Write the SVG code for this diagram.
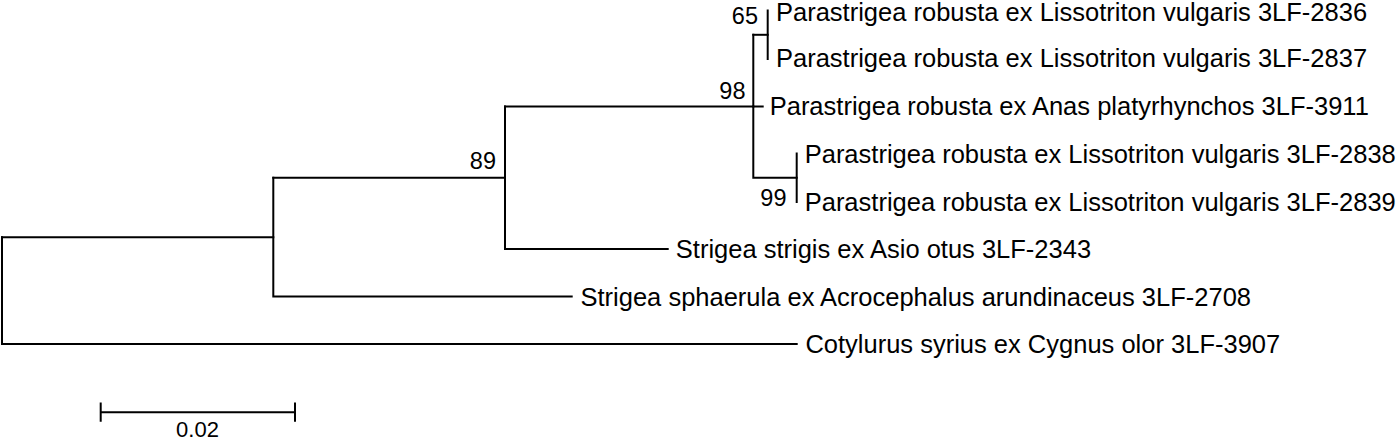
<svg xmlns="http://www.w3.org/2000/svg" width="1400" height="442" viewBox="0 0 1400 442">
<style>
.br{fill:none;stroke:#000;stroke-width:2;stroke-linecap:square}
.tx{font-family:"Liberation Sans",Arial,sans-serif;font-size:25.5px;fill:#000}
.bs{font-family:"Liberation Sans",Arial,sans-serif;font-size:23.5px;fill:#000;text-anchor:end}
.sc{font-family:"Liberation Sans",Arial,sans-serif;font-size:22px;fill:#000;text-anchor:middle}
</style>
<rect width="1400" height="442" fill="#fff"/>
<g id="connectors">
<path class="br" d="M2,237.2 V344 H796.7"/>
<path class="br" d="M2,237.2 H273.3"/>
<path class="br" d="M273.3,177.8 V296.5 H571.7"/>
<path class="br" d="M273.3,177.8 H505"/>
<path class="br" d="M505,106.5 V249 H667.7"/>
<path class="br" d="M505,106.5 H753.3"/>
<path class="br" d="M753.3,34.8 V177.8 H796.7"/>
<path class="br" d="M753.3,106.5 H762.7"/>
<path class="br" d="M753.3,34.8 H767.7"/>
<path class="br" d="M767.7,10.5 V59"/>
<path class="br" d="M796.7,153.5 V202"/>
</g>
<g id="bootstrap">
<text class="bs" x="758" y="24">65</text>
<text class="bs" x="745.5" y="98.5">98</text>
<text class="bs" x="496" y="168.5">89</text>
<text class="bs" x="786.5" y="205.5">99</text>
</g>
<g id="taxon-2836"><text class="tx" x="776" y="20.5">Parastrigea robusta ex Lissotriton vulgaris 3LF-2836</text></g>
<g id="taxon-2837"><text class="tx" x="776" y="66.5">Parastrigea robusta ex Lissotriton vulgaris 3LF-2837</text></g>
<g id="taxon-3911"><text class="tx" x="769.7" y="115.3">Parastrigea robusta ex Anas platyrhynchos 3LF-3911</text></g>
<g id="taxon-2838"><text class="tx" x="804.7" y="162.8">Parastrigea robusta ex Lissotriton vulgaris 3LF-2838</text></g>
<g id="taxon-2839"><text class="tx" x="804.7" y="211">Parastrigea robusta ex Lissotriton vulgaris 3LF-2839</text></g>
<g id="taxon-2343"><text class="tx" x="675.8" y="258">Strigea strigis ex Asio otus 3LF-2343</text></g>
<g id="taxon-2708"><text class="tx" x="580.5" y="305.5">Strigea sphaerula ex Acrocephalus arundinaceus 3LF-2708</text></g>
<g id="taxon-3907"><text class="tx" x="805.4" y="353">Cotylurus syrius ex Cygnus olor 3LF-3907</text></g>
<g id="scale-bar">
<path class="br" d="M100.7,412.3 H295 M100.7,403.5 V420.7 M295,403.5 V420.7"/>
<text class="sc" x="197.5" y="437">0.02</text>
</g>
</svg>
